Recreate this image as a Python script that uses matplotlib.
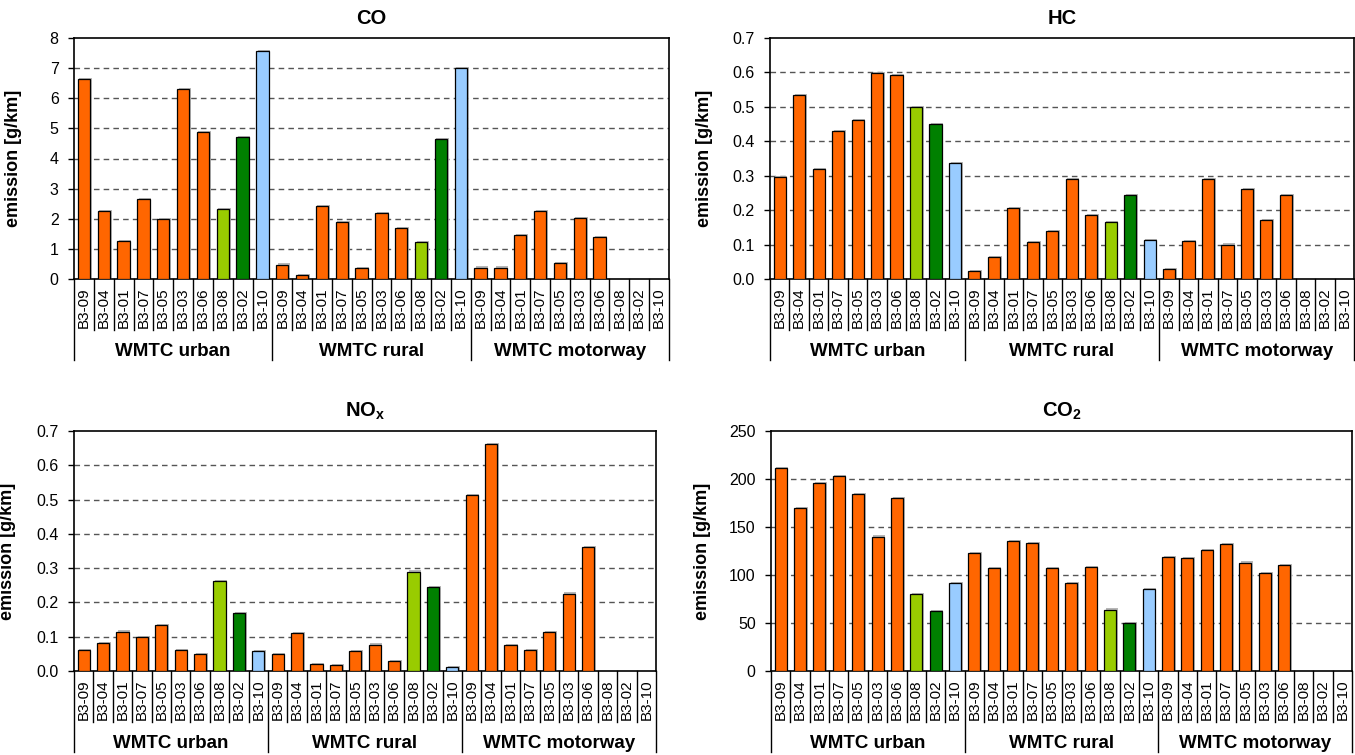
import numpy as np
import matplotlib
matplotlib.use("Agg")
import matplotlib.pyplot as plt
import matplotlib.transforms as mtransforms
import matplotlib.patheffects as pe

plt.rcParams['font.family'] = ['Liberation Sans', 'DejaVu Sans']
plt.rcParams['mathtext.fontset'] = 'custom'
plt.rcParams['mathtext.rm'] = 'Liberation Sans'
plt.rcParams['mathtext.bf'] = 'Liberation Sans:bold'
plt.rcParams['mathtext.it'] = 'Liberation Sans:italic'

vehicles = ["B3-09", "B3-04", "B3-01", "B3-07", "B3-05", "B3-03", "B3-06", "B3-08", "B3-02", "B3-10"]
cycles = ["WMTC urban", "WMTC rural", "WMTC motorway"]
vehicle_colors = ["#FF6600"] * 7 + ["#99CC00", "#008000", "#99CCFF"]
nan = np.nan

co_urban = [6.65, 2.25, 1.25, 2.65, 1.98, 6.3, 4.87, 2.32, 4.7, 7.57]
co_rural = [0.48, 0.13, 2.42, 1.88, 0.35, 2.2, 1.7, 1.22, 4.65, 7.0]
co_motorway = [0.38, 0.38, 1.45, 2.25, 0.52, 2.03, 1.38, nan, nan, nan]

hc_urban = [0.295, 0.535, 0.32, 0.43, 0.462, 0.597, 0.592, 0.5, 0.45, 0.337]
hc_rural = [0.022, 0.065, 0.207, 0.107, 0.14, 0.29, 0.186, 0.165, 0.245, 0.113]
hc_motorway = [0.028, 0.11, 0.291, 0.1, 0.262, 0.172, 0.244, nan, nan, nan]

nox_urban = [0.06, 0.082, 0.115, 0.098, 0.133, 0.06, 0.049, 0.263, 0.169, 0.057]
nox_rural = [0.05, 0.111, 0.021, 0.018, 0.058, 0.077, 0.028, 0.29, 0.246, 0.012]
nox_motorway = [0.512, 0.662, 0.075, 0.06, 0.113, 0.226, 0.362, nan, nan, nan]

co2_urban = [211, 170, 196, 203, 184, 140, 180, 80, 62, 92]
co2_rural = [123, 107, 135, 133, 107, 92, 108, 64, 50, 85]
co2_motorway = [119, 118, 126, 132, 113, 102, 110, nan, nan, nan]

W, H = 1355, 755
fig = plt.figure(figsize=(W / 100, H / 100), dpi=100)

panels = [
    dict(title="CO", data=[co_urban, co_rural, co_motorway], ymax=8, step=1, fmt="{:.0f}",
         box=(74, 38, 669, 279), ylab_dx=52),
    dict(title="HC", data=[hc_urban, hc_rural, hc_motorway], ymax=0.7, step=0.1, fmt="{:.1f}",
         box=(770, 38, 1354, 279), ylab_dx=57),
    dict(title=r"$\mathbf{NO_x}$", data=[nox_urban, nox_rural, nox_motorway], ymax=0.7, step=0.1, fmt="{:.1f}",
         box=(74, 431, 656, 671), ylab_dx=58),
    dict(title=r"$\mathbf{CO_2}$", data=[co2_urban, co2_rural, co2_motorway], ymax=250, step=50, fmt="{:.0f}",
         box=(771, 431, 1352, 671), ylab_dx=60),
]

for p in panels:
    x0, y0, x1, y1 = p["box"]
    ax = fig.add_axes([x0 / W, 1 - y1 / H, (x1 - x0) / W, (y1 - y0) / H])
    ah = y1 - y0
    aw = x1 - x0
    values = []
    colors = []
    labels = []
    for g in p["data"]:
        values.extend(g)
        colors.extend(vehicle_colors)
        labels.extend(vehicles)
    n = len(values)
    xs = np.arange(n)
    ax.bar(xs, values, width=0.62, color=colors, edgecolor="black", linewidth=0.9, zorder=3,
           path_effects=[pe.SimplePatchShadow(offset=(1.2, 0.8), shadow_rgbFace="#b0b0b0", alpha=0.9), pe.Normal()])
    ax.set_xlim(-0.5, n - 0.5)
    ax.set_ylim(0, p["ymax"])
    ticks = np.arange(0, p["ymax"] + p["step"] / 2, p["step"])
    ax.set_yticks(ticks)
    ax.set_yticklabels([p["fmt"].format(t) for t in ticks], fontsize=11.5)
    for t in ticks[1:-1]:
        ax.axhline(t, color="#555555", lw=1.0, ls=(0, (4, 3)), zorder=1)
    ax.tick_params(axis="y", direction="out", length=4, width=1, pad=7)
    ax.set_xticks(xs)
    ax.set_xticklabels(labels, rotation=90, fontsize=11)
    ax.tick_params(axis="x", length=0, pad=6)
    for s in ax.spines.values():
        s.set_linewidth(1.2)
        s.set_color("black")
    ax.set_title(p["title"], fontsize=14.5, fontweight="bold", pad=10)
    ax.set_ylabel("emission [g/km]", fontsize=13, fontweight="bold")
    ax.yaxis.set_label_coords(-p["ylab_dx"] / aw, 0.5)

    trans = mtransforms.blended_transform_factory(ax.transData, ax.transAxes)
    cat_depth = -51.0 / ah
    grp_depth = -81.0 / ah
    for i in range(n + 1):
        b = i - 0.5
        depth = grp_depth if i % 10 == 0 else cat_depth
        ax.plot([b, b], [0, depth], color="black", lw=1.0, transform=trans, clip_on=False, zorder=4)
    for gi, name in enumerate(cycles):
        ax.text(gi * 10 + 4.5, -72.0 / ah, name, transform=trans, ha="center", va="center",
                fontsize=13.5, fontweight="bold")

fig.savefig("out.png", dpi=100)
